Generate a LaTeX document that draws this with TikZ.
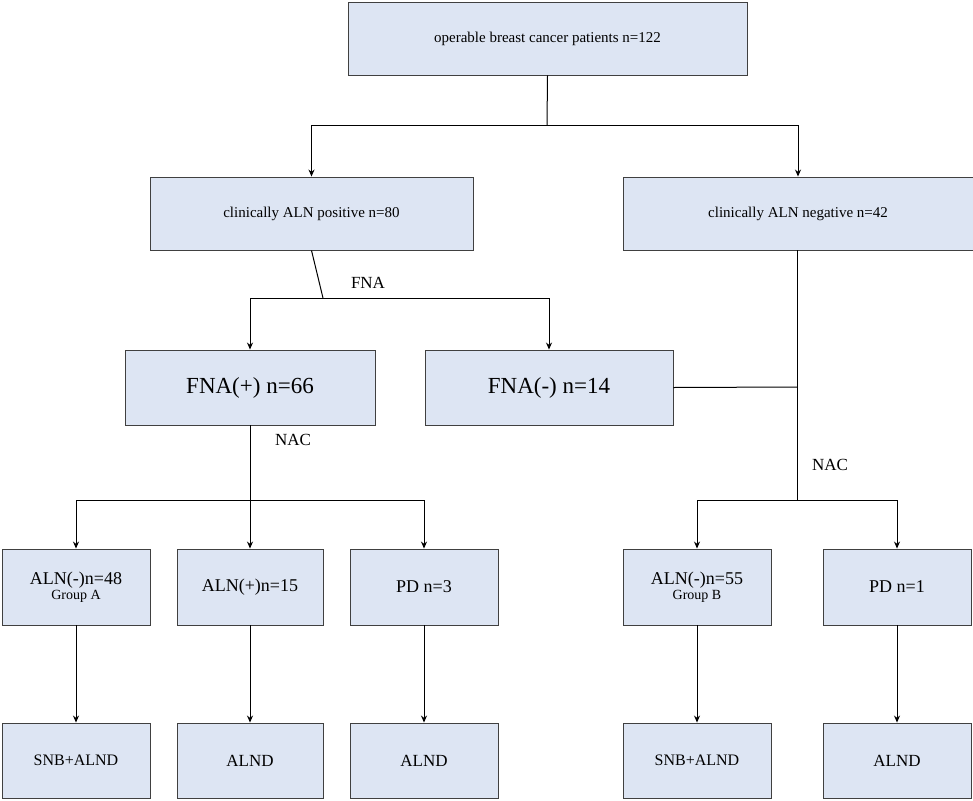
\documentclass[tikz,border=0pt]{standalone}
\usepackage{fontspec}
\setmainfont{Liberation Serif}
\usetikzlibrary{arrows.meta}
\begin{document}
\begin{tikzpicture}[x=1pt,y=-1pt,
  bx/.style={draw=black!75,fill={rgb,255:red,221;green,229;blue,243},line width=0.9pt,inner sep=0pt},
  ln/.style={line width=1pt},
  ar/.style={ln,-{Stealth[length=7pt,width=6pt]}},
  lb/.style={font=\fontsize{17}{20}\selectfont}]
\useasboundingbox (0,0) rectangle (973,800);
\newcommand\bx[6]{\node[bx,minimum width=#4-#2,minimum height=#5-#3,align=center] (#1) at ({(#2+#4)/2},{(#3+#5)/2}) {#6};}
\bx{top}{348}{2}{747}{75}{\fontsize{15}{18}\selectfont operable breast cancer patients n=122}
\bx{pos}{150}{177}{473}{250}{\fontsize{15}{18}\selectfont clinically ALN positive n=80}
\bx{neg}{623}{177}{973}{250}{\fontsize{15}{18}\selectfont clinically ALN negative n=42}
\bx{fp}{125}{350}{375}{425}{\fontsize{23}{26}\selectfont FNA(+) n=66}
\bx{fn}{425}{350}{673}{425}{\fontsize{23}{26}\selectfont FNA(-) n=14}
\bx{a}{2}{549}{150}{625}{\fontsize{18}{20}\selectfont ALN(-)n=48\\[1pt]\fontsize{14}{16}\selectfont Group A}
\bx{b}{177}{549}{323}{625}{\fontsize{18}{20}\selectfont ALN(+)n=15}
\bx{c}{350}{549}{498}{625}{\fontsize{18}{20}\selectfont PD n=3}
\bx{d}{623}{549}{771}{625}{\fontsize{18}{20}\selectfont ALN(-)n=55\\[1pt]\fontsize{14}{16}\selectfont Group B}
\bx{e}{823}{549}{971}{625}{\fontsize{18}{20}\selectfont PD n=1}
\bx{a2}{2}{723}{150}{798}{\fontsize{16}{18}\selectfont SNB+ALND}
\bx{b2}{177}{723}{323}{798}{\fontsize{17}{18}\selectfont ALND}
\bx{c2}{350}{723}{498}{798}{\fontsize{17}{18}\selectfont ALND}
\bx{d2}{623}{723}{771}{798}{\fontsize{16}{18}\selectfont SNB+ALND}
\bx{e2}{823}{723}{971}{798}{\fontsize{17}{18}\selectfont ALND}
\coordinate (j1) at (547,125);
\draw[ln] (top.south) -- (j1);
\draw[ar] (j1) -| (pos.north);
\draw[ar] (j1) -| (neg.north);
\coordinate (j2) at (323,298);
\draw[ln] (pos.south) -- (j2);
\node[lb,anchor=center] (fna) at (368,283) {FNA};
\draw[ar] (j2) -| (fp.north);
\draw[ar] (j2) -| (fn.north);
\coordinate (j3) at (250,500);
\draw[ln] (fp.south) -- (j3);
\node[lb] (nac1) at (293,440) {NAC};
\draw[ar] (j3) -| (a.north);
\draw[ar] (j3) -- (b.north);
\draw[ar] (j3) -| (c.north);
\coordinate (j4) at (797,500);
\coordinate (j5) at (797,387);
\draw[ln] (neg.south -| j4) -- (j4);
\draw[ln] (fn.east) -- (j5);
\node[lb] (nac2) at (830,465) {NAC};
\draw[ar] (j4) -| (d.north);
\draw[ar] (j4) -| (e.north);
\foreach \u/\v in {a/a2,b/b2,c/c2,d/d2,e/e2} \draw[ar] (\u.south) -- (\v.north);
\end{tikzpicture}
\end{document}
